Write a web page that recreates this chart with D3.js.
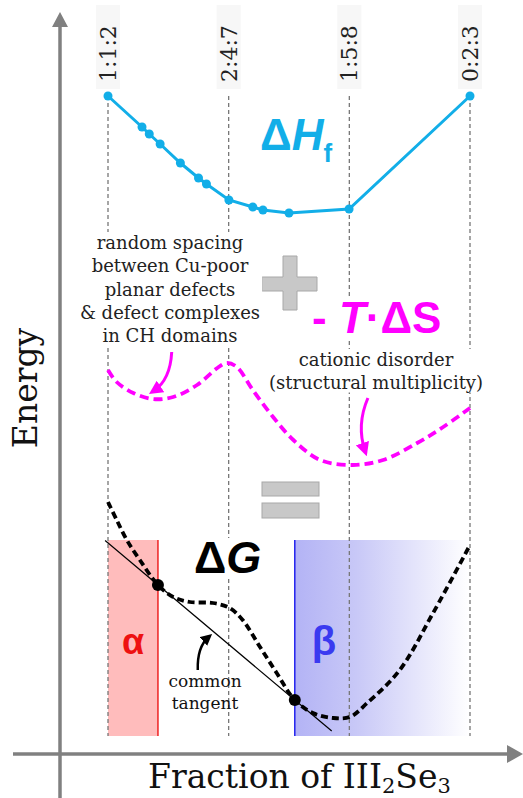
<!DOCTYPE html>
<html>
<head>
<meta charset="utf-8">
<script src="https://cdn.jsdelivr.net/npm/d3@7"></script>
<style>
  html, body { margin: 0; padding: 0; background: #fff; }
  svg { display: block; }
</style>
</head>
<body>
<div id="chart"></div>
<script>
// Reference compositions (Cu2Se : In2Se3 : Se ratio labels) and their III2Se3 fraction
const compositionLabels = ["1:1:2", "2:4:7", "1:5:8", "0:2:3"];
const compositionFrac = [0.5, 2 / 3, 5 / 6, 1.0];

// Formation enthalpy ΔHf (arb. units, offset for display)
const hfFrac = [0.5, 0.547, 0.557, 0.572, 0.600, 0.625, 0.636, 0.667, 0.700, 0.714, 0.750, 0.833, 1.0];
const hfEnergy = [64.0, 60.9, 60.2, 59.2, 57.3, 55.8, 55.2, 53.6, 52.9, 52.6, 52.3, 52.7, 64.0];

// Entropic term -T·ΔS (arb. units, offset for display)
const tsFrac = [0.5, 0.512, 0.535, 0.562, 0.590, 0.623, 0.651, 0.664, 0.678, 0.700, 0.728, 0.756, 0.793, 0.838, 0.880, 0.927, 0.963, 1.0];
const tsEnergy = [36.6, 35.4, 34.3, 33.7, 33.9, 35.1, 36.8, 37.3, 36.9, 34.6, 31.9, 29.6, 27.6, 27.1, 27.6, 29.3, 30.9, 32.8];

// Free energy ΔG (arb. units, offset for display)
const gFrac = [0.5, 0.512, 0.526, 0.544, 0.569, 0.590, 0.613, 0.645, 0.668, 0.686, 0.710, 0.733, 0.758, 0.783, 0.811, 0.834, 0.858, 0.903, 0.949, 1.0];
const gEnergy = [23.4, 21.6, 19.6, 17.6, 15.1, 13.9, 13.4, 13.3, 12.8, 11.6, 8.9, 6.3, 3.6, 2.3, 1.8, 1.9, 3.3, 6.6, 12.3, 19.1];

// Common tangent contact points on ΔG and the span of the drawn line
const tangentFrac = [0.569, 0.758];
const tangentEnergy = [15.1, 3.6];
const tangentSpan = [0.496, 0.809];

// Single-phase regions α and β (fraction range, energy range)
const alphaRange = [0.5, 0.569];
const betaRange = [0.758, 1.0];
const phaseEnergy = [0, 19.6];

const W = 523, H = 798;
const x = d3.scaleLinear().domain([0.5, 1.0]).range([108, 470]);
const y = d3.scaleLinear().domain([0, 64]).range([736, 96]);

const svg = d3.select("#chart").append("svg")
  .attr("width", W).attr("height", H)
  .attr("viewBox", `0 0 ${W} ${H}`);

const defs = svg.append("defs");
const grad = defs.append("linearGradient").attr("id", "betaGrad")
  .attr("x1", "0%").attr("x2", "100%").attr("y1", "0%").attr("y2", "0%");
grad.append("stop").attr("offset", "0%").attr("stop-color", "#b3b3f5");
grad.append("stop").attr("offset", "35%").attr("stop-color", "#c8c8f7");
grad.append("stop").attr("offset", "100%").attr("stop-color", "#ffffff");

function arrowMarker(id, color, size) {
  defs.append("marker").attr("id", id)
    .attr("viewBox", "0 0 10 10").attr("refX", 6).attr("refY", 5)
    .attr("markerWidth", size).attr("markerHeight", size)
    .attr("orient", "auto-start-reverse")
    .append("path").attr("d", "M0,0 L10,5 L0,10 Z").attr("fill", color);
}
arrowMarker("arrMag", "#ff00ff", 4.6);
arrowMarker("arrBlk", "#000", 4.6);

// Phase regions
svg.append("rect")
  .attr("x", x(alphaRange[0])).attr("width", x(alphaRange[1]) - x(alphaRange[0]))
  .attr("y", y(phaseEnergy[1])).attr("height", y(phaseEnergy[0]) - y(phaseEnergy[1]))
  .attr("fill", "#ffbcbc");
svg.append("line")
  .attr("x1", x(alphaRange[1])).attr("x2", x(alphaRange[1]))
  .attr("y1", y(phaseEnergy[1])).attr("y2", y(phaseEnergy[0]))
  .attr("stroke", "#ee2222").attr("stroke-width", 1.5);
svg.append("rect")
  .attr("x", x(betaRange[0])).attr("width", x(betaRange[1]) - x(betaRange[0]))
  .attr("y", y(phaseEnergy[1])).attr("height", y(phaseEnergy[0]) - y(phaseEnergy[1]))
  .attr("fill", "url(#betaGrad)");
svg.append("line")
  .attr("x1", x(betaRange[0])).attr("x2", x(betaRange[0]))
  .attr("y1", y(phaseEnergy[1])).attr("y2", y(phaseEnergy[0]))
  .attr("stroke", "#2222ee").attr("stroke-width", 1.5);

// Composition guide lines with rotated labels
const guides = svg.append("g");
compositionFrac.forEach((f, i) => {
  guides.append("line")
    .attr("x1", x(f)).attr("x2", x(f))
    .attr("y1", y(64)).attr("y2", y(0))
    .attr("stroke", "#777").attr("stroke-width", 1.3)
    .attr("stroke-dasharray", "4,3");
  guides.append("rect")
    .attr("x", x(f) - 12).attr("y", 5).attr("width", 24).attr("height", 84)
    .attr("fill", "#f7f7f7");
  guides.append("text")
    .attr("transform", `translate(${x(f) + 8},82) rotate(-90)`)
    .attr("font-family", "DejaVu Serif").attr("font-size", 22)
    .attr("fill", "#222")
    .text(compositionLabels[i]);
});

// Axes with arrowheads
const axisColor = "#808080";
svg.append("line").attr("x1", 60).attr("x2", 60).attr("y1", 798).attr("y2", 26)
  .attr("stroke", axisColor).attr("stroke-width", 3.5);
svg.append("path").attr("d", "M52,27 L60,12 L68,27 Z").attr("fill", axisColor);
svg.append("line").attr("x1", 13).attr("x2", 508).attr("y1", 754).attr("y2", 754)
  .attr("stroke", axisColor).attr("stroke-width", 3.5);
svg.append("path").attr("d", "M507,745 L523,754 L507,763 Z").attr("fill", axisColor);

// White-backed text block helper
function textBlock(lines, cx, baseline, lh, size, fill, bg) {
  const g = svg.append("g");
  const t = g.append("text").attr("font-family", "DejaVu Serif")
    .attr("font-size", size).attr("fill", fill).attr("text-anchor", "middle");
  lines.forEach((s, i) => t.append("tspan").attr("x", cx).attr("y", baseline + i * lh).text(s));
  if (bg) {
    const b = t.node().getBBox();
    g.insert("rect", "text").attr("x", b.x - 2).attr("y", b.y).attr("width", b.width + 4)
      .attr("height", b.height).attr("fill", "#fff");
  }
  return g;
}

// ΔHf series
const hfData = hfFrac.map((f, i) => [f, hfEnergy[i]]);
svg.append("path").datum(hfData)
  .attr("d", d3.line().x(d => x(d[0])).y(d => y(d[1])))
  .attr("fill", "none").attr("stroke", "#12aee8").attr("stroke-width", 3);
svg.selectAll("circle.hf").data(hfData).join("circle").attr("class", "hf")
  .attr("cx", d => x(d[0])).attr("cy", d => y(d[1])).attr("r", 4.5)
  .attr("fill", "#12aee8");

const hfLabel = svg.append("text").attr("x", 260).attr("y", 150)
  .attr("font-family", "Liberation Sans").attr("font-weight", "bold")
  .attr("font-size", 44).attr("fill", "#12aee8");
hfLabel.append("tspan").text("Δ");
hfLabel.append("tspan").attr("font-style", "italic").text("H");
hfLabel.append("tspan").attr("font-size", 26).attr("dy", 12).text("f");

// Plus sign
svg.append("path")
  .attr("d", "M283,256 H297 V277 H317 V291 H297 V310 H283 V291 H262 V277 H283 Z")
  .attr("fill", "#c8c8c8").attr("stroke", "#a8a8a8").attr("stroke-width", 1);

// Annotation for CH-domain spacing
textBlock(["random spacing", "between Cu-poor", "planar defects", "& defect complexes", "in CH domains"],
  170, 249, 23.3, 18, "#222", true);

// -T·ΔS label
const tsG = svg.append("g");
const tsLabel = tsG.append("text").attr("x", 312).attr("y", 333)
  .attr("font-family", "Liberation Sans").attr("font-weight", "bold")
  .attr("font-size", 44).attr("fill", "#ff00ff");
tsLabel.append("tspan").text("- ");
tsLabel.append("tspan").attr("font-style", "italic").text("T");
tsLabel.append("tspan").text("·ΔS");
{
  const b = tsLabel.node().getBBox();
  tsG.insert("rect", "text").attr("x", b.x).attr("y", b.y + 6).attr("width", b.width)
    .attr("height", b.height - 8).attr("fill", "#fff");
}

textBlock(["cationic disorder", "(structural multiplicity)"], 376, 366, 22.5, 18, "#222", true);

// -T·ΔS series
const tsData = tsFrac.map((f, i) => [f, tsEnergy[i]]);
svg.append("path").datum(tsData)
  .attr("d", d3.line().curve(d3.curveCatmullRom).x(d => x(d[0])).y(d => y(d[1])))
  .attr("fill", "none").attr("stroke", "#ff00ff").attr("stroke-width", 3.8)
  .attr("stroke-dasharray", "9,5");

// Annotation arrows (data-space anchors: start, control, end)
const arrowCH = [[0.588, 38.4], [0.586, 35.6], [0.563, 34.5]];
const arrowCat = [[0.859, 33.8], [0.843, 31.1], [0.855, 28.5]];
const arrowTan = [[0.624, 6.6], [0.623, 8.9], [0.639, 9.9]];
function curvedArrow(pts, color, width, marker) {
  const p = pts.map(d => [x(d[0]), y(d[1])]);
  svg.append("path")
    .attr("d", `M${p[0][0]},${p[0][1]} Q${p[1][0]},${p[1][1]} ${p[2][0]},${p[2][1]}`)
    .attr("fill", "none").attr("stroke", color).attr("stroke-width", width)
    .attr("marker-end", `url(#${marker})`);
}
curvedArrow(arrowCH, "#ff00ff", 3, "arrMag");
curvedArrow(arrowCat, "#ff00ff", 3, "arrMag");

// Equals sign
svg.append("rect").attr("x", 262).attr("y", 482).attr("width", 57).attr("height", 14)
  .attr("fill", "#c8c8c8").attr("stroke", "#a8a8a8");
svg.append("rect").attr("x", 262).attr("y", 503).attr("width", 57).attr("height", 15)
  .attr("fill", "#c8c8c8").attr("stroke", "#a8a8a8");

// ΔG label
const gG = svg.append("g");
const gLabel = gG.append("text").attr("x", 194).attr("y", 573)
  .attr("font-family", "Liberation Sans").attr("font-weight", "bold")
  .attr("font-size", 45).attr("fill", "#000");
gLabel.append("tspan").text("Δ");
gLabel.append("tspan").attr("font-style", "italic").text("G");
{
  const b = gLabel.node().getBBox();
  gG.insert("rect", "text").attr("x", b.x).attr("y", b.y + 6).attr("width", b.width)
    .attr("height", b.height - 12).attr("fill", "#fff");
}

// Phase labels
svg.append("text").attr("x", x((alphaRange[0] + alphaRange[1]) / 2)).attr("y", 654)
  .attr("text-anchor", "middle").attr("font-family", "Liberation Sans")
  .attr("font-weight", "bold").attr("font-size", 36).attr("fill", "#ee1111").text("α");
svg.append("text").attr("x", 324).attr("y", 655)
  .attr("text-anchor", "middle").attr("font-family", "Liberation Sans")
  .attr("font-weight", "bold").attr("font-size", 40).attr("fill", "#3a3af0").text("β");

// Common tangent
const slope = (tangentEnergy[1] - tangentEnergy[0]) / (tangentFrac[1] - tangentFrac[0]);
const tanLine = tangentSpan.map(f => [f, tangentEnergy[0] + slope * (f - tangentFrac[0])]);
svg.append("line")
  .attr("x1", x(tanLine[0][0])).attr("y1", y(tanLine[0][1]))
  .attr("x2", x(tanLine[1][0])).attr("y2", y(tanLine[1][1]))
  .attr("stroke", "#000").attr("stroke-width", 1.2);

textBlock(["common", "tangent"], 205, 687, 22, 17, "#111", false);
curvedArrow(arrowTan, "#000", 2.5, "arrBlk");

// ΔG series
const gData = gFrac.map((f, i) => [f, gEnergy[i]]);
svg.append("path").datum(gData)
  .attr("d", d3.line().curve(d3.curveCatmullRom).x(d => x(d[0])).y(d => y(d[1])))
  .attr("fill", "none").attr("stroke", "#000").attr("stroke-width", 3.8)
  .attr("stroke-dasharray", "7,4");
svg.selectAll("circle.tp").data(tangentFrac.map((f, i) => [f, tangentEnergy[i]]))
  .join("circle").attr("class", "tp")
  .attr("cx", d => x(d[0])).attr("cy", d => y(d[1])).attr("r", 6).attr("fill", "#000");

// Axis titles
svg.append("text")
  .attr("transform", "translate(37,388) rotate(-90)")
  .attr("text-anchor", "middle").attr("font-family", "DejaVu Serif")
  .attr("font-size", 33).attr("fill", "#111").text("Energy");
const xt = svg.append("text").attr("x", 148).attr("y", 788)
  .attr("font-family", "DejaVu Serif").attr("font-size", 33).attr("fill", "#111");
xt.append("tspan").text("Fraction of III");
xt.append("tspan").attr("font-size", 21).attr("dy", 5).text("2");
xt.append("tspan").attr("dy", -5).text("Se");
xt.append("tspan").attr("font-size", 21).attr("dy", 5).text("3");
</script>
</body>
</html>
